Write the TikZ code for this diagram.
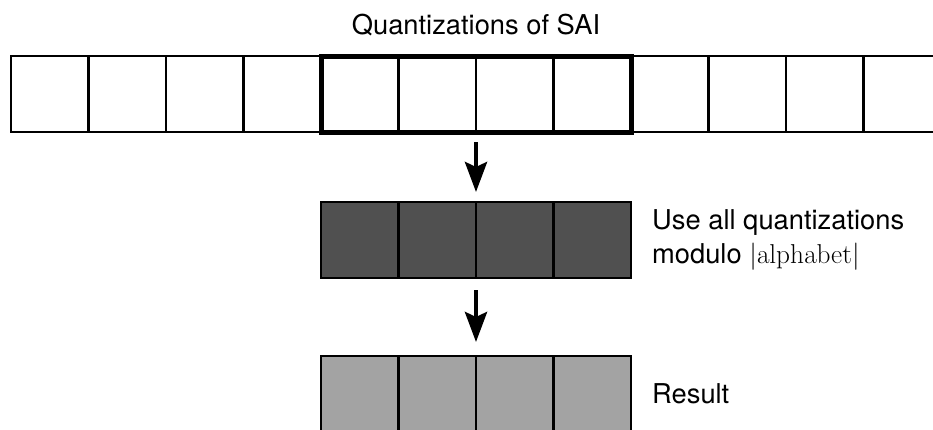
\documentclass[tikz,border=0pt]{standalone}
\usepackage{fix-cm}
\usepackage[no-math]{fontspec}
\setmainfont{TeX Gyre Heros}
\usepackage{xcolor}
\usetikzlibrary{positioning,arrows.meta}

\definecolor{darkcell}{HTML}{505050}
\definecolor{lightcell}{HTML}{A3A3A3}

\tikzset{
  cell/.style={draw, line width=2.2pt, minimum width=77.5pt, minimum height=76pt, inner sep=0pt, outer sep=0pt},
  labeltext/.style={font=\fontsize{27.3}{33.5}\selectfont, inner sep=0pt},
  flow/.style={-{Stealth[length=30pt,width=22pt,inset=5pt]}, line width=4.5pt},
}

\begin{document}
\begin{tikzpicture}[x=1pt, y=-1pt]
\useasboundingbox (0,0) rectangle (933,429);
\clip (0,0) rectangle (933,429);
% quantizations of the SAI
\foreach \i in {1,...,12}
  \node[cell] (q\i) at ({11+77.5*(\i-0.5)}, 94) {};
\draw[line width=5pt] (q5.north west) rectangle (q8.south east);
\node[labeltext, above=20pt of q6.north east] (title) {Quantizations of SAI};
% modulo step
\foreach \i in {1,...,4}
  \node[cell, fill=darkcell] (m\i) at ({321+77.5*(\i-0.5)}, 240) {};
\node[labeltext, align=left, right=21pt of m4] (usetext) {Use all quantizations\\modulo $|\mathrm{alphabet}|$};
% result
\foreach \i in {1,...,4}
  \node[cell, fill=lightcell] (r\i) at ({321+77.5*(\i-0.5)}, 394) {};
\node[labeltext, right=21pt of r4] (restext) {Result};
% arrows
\draw[flow, shorten <=10pt, shorten >=10pt] (q6.south east) -- (m2.north east);
\draw[flow, shorten <=12pt, shorten >=14pt] (m2.south east) -- (r2.north east);
\end{tikzpicture}
\end{document}
